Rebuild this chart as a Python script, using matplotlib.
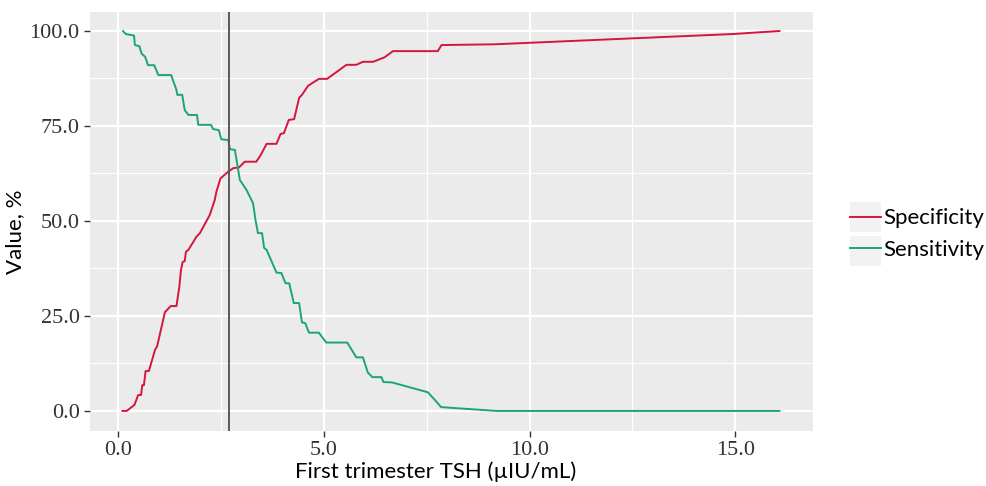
import matplotlib.pyplot as plt
from matplotlib.patches import Rectangle

# values
tsh_cutoff = 2.69

spec_x = [0.11, 0.21, 0.40, 0.49, 0.56, 0.59, 0.63, 0.67, 0.75, 0.90, 0.95, 1.14, 1.28, 1.42,
          1.49, 1.53, 1.57, 1.62, 1.65, 1.71, 1.91, 1.99, 2.23, 2.35, 2.39, 2.49, 2.68, 2.80,
          2.94, 3.08, 3.36, 3.47, 3.61, 3.85, 3.95, 4.03, 4.15, 4.28, 4.40, 4.47, 4.62, 4.88,
          5.08, 5.55, 5.79, 5.95, 6.20, 6.48, 6.68, 7.77, 7.86, 9.15, 14.93, 16.07]
spec_y = [0, 0, 1.6, 4.2, 4.2, 6.8, 6.8, 10.5, 10.5, 16.1, 17.0, 26.0, 27.6, 27.6,
          32.7, 37.1, 39.2, 39.4, 41.9, 42.4, 45.9, 46.8, 51.6, 55.5, 57.7, 61.2, 63.0, 63.9,
          64.1, 65.6, 65.6, 67.4, 70.3, 70.3, 72.9, 73.1, 76.6, 76.8, 82.4, 83.2, 85.6, 87.4,
          87.4, 91.1, 91.1, 91.9, 91.9, 93.1, 94.7, 94.7, 96.3, 96.5, 99.2, 100]

sens_x = [0.12, 0.19, 0.39, 0.41, 0.52, 0.57, 0.66, 0.73, 0.88, 0.98, 1.29, 1.42, 1.44, 1.56,
          1.62, 1.71, 1.92, 1.95, 2.26, 2.31, 2.45, 2.51, 2.68, 2.72, 2.84, 2.96, 3.12, 3.28,
          3.34, 3.40, 3.50, 3.55, 3.61, 3.85, 3.97, 4.07, 4.16, 4.27, 4.40, 4.47, 4.55, 4.64,
          4.88, 5.06, 5.57, 5.79, 5.95, 6.07, 6.18, 6.40, 6.45, 6.66, 7.53, 7.73, 7.85, 9.20, 16.07]
sens_y = [100, 99.2, 98.8, 96.3, 96.0, 94.1, 93.2, 91.0, 91.0, 88.4, 88.4, 84.5, 83.2, 83.2,
          79.2, 77.9, 77.9, 75.3, 75.3, 74.2, 73.9, 71.5, 71.3, 68.9, 68.7, 60.8, 58.2, 54.7,
          50.3, 46.8, 46.8, 42.9, 42.4, 36.4, 36.3, 33.6, 33.6, 28.4, 28.4, 23.3, 23.1, 20.6,
          20.6, 18.0, 18.0, 14.1, 14.1, 10.1, 8.9, 8.9, 7.6, 7.5, 4.9, 2.5, 1.0, 0, 0]

x_ticks = [0, 5, 10, 15]
y_ticks = [0, 25, 50, 75, 100]

fig = plt.figure(figsize=(9.86, 4.86), dpi=100)
ax = fig.add_axes([0.0913, 0.1138, 0.733, 0.8615])
ax.set_facecolor('#EBEBEB')
for s in ax.spines.values():
    s.set_visible(False)

# ggplot style grid
ax.set_xticks(x_ticks)
ax.set_yticks(y_ticks)
ax.set_xticks([2.5, 7.5, 12.5], minor=True)
ax.set_yticks([12.5, 37.5, 62.5, 87.5], minor=True)
ax.grid(which='major', color='white', linewidth=1.6)
ax.grid(which='minor', color='white', linewidth=0.8)
ax.set_axisbelow(True)
ax.tick_params(which='minor', length=0)
ax.tick_params(which='major', length=4, width=1, color='#333333', labelcolor='#333333')
ax.set_xticklabels(['%.1f' % v for v in x_ticks], fontfamily='Liberation Serif', fontsize=16)
ax.set_yticklabels(['%.1f' % v for v in y_ticks], fontfamily='Liberation Serif', fontsize=16)

ax.plot(spec_x, spec_y, color='#D4163E', linewidth=1.4, label='Specificity')
ax.plot(sens_x, sens_y, color='#1BA47A', linewidth=1.4, label='Sensitivity')
ax.axvline(tsh_cutoff, color='#5a5a5a', linewidth=1.4)

ax.set_xlim(-0.68, 16.88)
ax.set_ylim(-5.2, 105)
ax.set_xlabel('First trimester TSH (µIU/mL)', fontfamily='Lato', fontsize=16, labelpad=1)
ax.set_ylabel('Value, %', fontfamily='Lato', fontsize=16, labelpad=3)
ax.xaxis.label.set_x(0.478)
ax.yaxis.label.set_y(0.476)

# grey legend key boxes like ggplot
for y0 in [202, 236]:
    fig.patches.append(Rectangle((850 / 986, 1 - (y0 + 30) / 486), 31 / 986, 30 / 486,
                                 transform=fig.transFigure, facecolor='#F2F2F2',
                                 edgecolor='none', zorder=0))

leg = fig.legend(loc='center left', bbox_to_anchor=(850 / 986, 1 - 234 / 486), frameon=False,
                 prop={'family': 'Lato', 'size': 16}, handlelength=1.4, handletextpad=0.1,
                 labelspacing=0.5, borderpad=0, borderaxespad=0)

fig.savefig('out.png', dpi=100)
